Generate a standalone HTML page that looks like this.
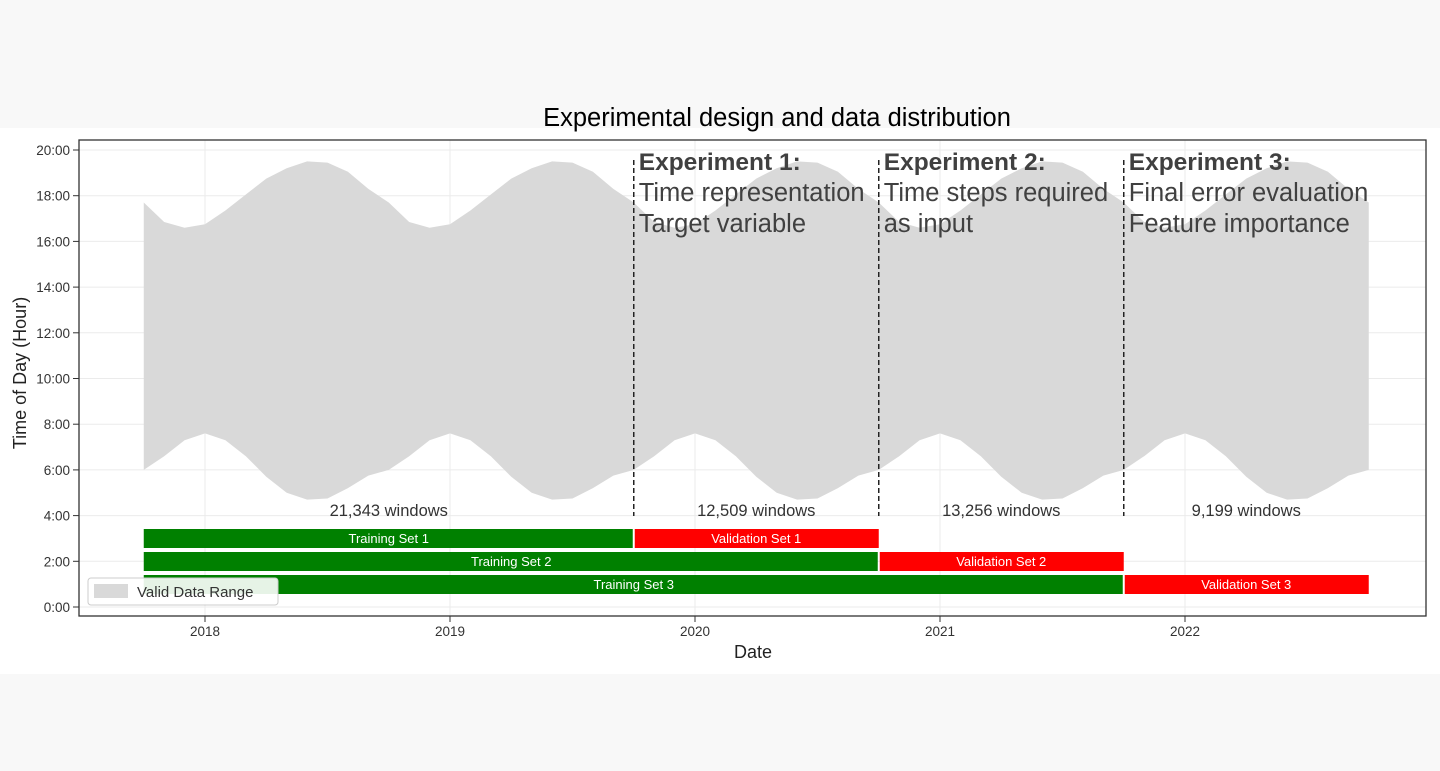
<!DOCTYPE html>
<html><head><meta charset="utf-8"><style>
body{margin:0;background:#f8f8f8;font-family:"Liberation Sans",Arial,sans-serif}
svg{display:block}
</style></head><body>
<svg id="c" width="1440" height="771" xmlns="http://www.w3.org/2000/svg">
<rect x="0" y="0" width="1440" height="771" fill="#f8f8f8"/>
<rect x="0" y="128" width="1440" height="546" fill="#ffffff"/>
<text x="777" y="126" font-size="25.5" text-anchor="middle" fill="#000">Experimental design and data distribution</text>
<g id="grid"></g>
<g id="area"></g>
<g id="marks"></g>
<rect x="79" y="140" width="1347" height="476" fill="none" stroke="#333" stroke-width="1.3"/>
<g id="axes"></g>
<text x="0" y="0" transform="translate(26,373) rotate(-90)" font-size="18" text-anchor="middle" fill="#222">Time of Day (Hour)</text>
<text x="753" y="658" font-size="18" text-anchor="middle" fill="#222">Date</text>
<g id="legend">
<rect x="88" y="578" width="190" height="27" rx="3" fill="#fff" fill-opacity="0.9" stroke="#ccc"/>
<rect x="94" y="584" width="34" height="14" fill="#d9d9d9"/>
<text x="137" y="597" font-size="15" fill="#333">Valid Data Range</text>
</g>
</svg>
<script>
const NS="http://www.w3.org/2000/svg";
const yTicks=[0,2,4,6,8,10,12,14,16,18,20];
const xTickYears=[2018,2019,2020,2021,2022];
const dataStart=2017.75, dataEnd=2022.75;
const sunsetMonthly=[17.7,16.85,16.6,16.75,17.35,18.05,18.75,19.2,19.5,19.45,19.05,18.3];
const sunriseMonthly=[6.0,6.6,7.3,7.6,7.3,6.6,5.7,5.0,4.7,4.75,5.2,5.75];
const splitYears=[2019.75,2020.75,2021.75];
const windowCounts=["21,343 windows","12,509 windows","13,256 windows","9,199 windows"];
const trainEnds=[2019.75,2020.75,2021.75];
const valEnds=[2020.75,2021.75,2022.75];
const expTitles=["Experiment 1:","Experiment 2:","Experiment 3:"];
const expLines=[["Time representation","Target variable"],["Time steps required","as input"],["Final error evaluation","Feature importance"]];

const X=d=>205+(d-2018)*245;
const Y=h=>607-h*22.85;
function el(tag,attrs,parent,txt){const e=document.createElementNS(NS,tag);for(const k in attrs)e.setAttribute(k,attrs[k]);if(txt!==undefined)e.textContent=txt;parent.appendChild(e);return e;}
const gridG=document.getElementById('grid'),areaG=document.getElementById('area'),marksG=document.getElementById('marks'),axesG=document.getElementById('axes');
yTicks.forEach(h=>{
 const l=el('line',{x1:79,x2:1426,y1:Y(h),y2:Y(h),stroke:'#ebebeb'},gridG);
 
 
 const t=el('line',{x1:73,x2:79,y1:Y(h),y2:Y(h),stroke:'#333'},axesG);
 
 
 const s=el('text',{x:70,y:Y(h)+5,'font-size':13.5,'text-anchor':'end',fill:'#333'},axesG,h+':00');
 
 
});
xTickYears.forEach(y=>{
 const l=el('line',{x1:X(y),x2:X(y),y1:140,y2:616,stroke:'#ebebeb'},gridG);
 
 
 const t=el('line',{x1:X(y),x2:X(y),y1:616,y2:622,stroke:'#333'},axesG);
 
 
 const s=el('text',{x:X(y),y:636,'font-size':13.5,'text-anchor':'middle',fill:'#333'},axesG,y);
 
 
});
let upperEdge=[],lowerEdge=[];
const nMonths=Math.round((dataEnd-dataStart)*12);
for(let i=0;i<=nMonths;i++){
 const d=dataStart+i/12, m=i%12;
 upperEdge.push([X(d),Y(sunsetMonthly[m])]);lowerEdge.push([X(d),Y(sunriseMonthly[m])]);
}
const pts=upperEdge.concat(lowerEdge.reverse()).map(p=>p.join(',')).join(' ');
const poly=el('polygon',{points:pts,fill:'#d9d9d9'},areaG);


splitYears.forEach(s=>{
 const l=el('line',{x1:X(s),x2:X(s),y1:160,y2:516,stroke:'#222','stroke-width':1.5,'stroke-dasharray':'5,3'},marksG);
 
 
});
const segs=[dataStart].concat(splitYears).concat([dataEnd]);
windowCounts.forEach((w,i)=>{
 const t=el('text',{x:(X(segs[i])+X(segs[i+1]))/2,y:516,'font-size':16.5,'text-anchor':'middle',fill:'#333'},marksG,w);
 
 
});
expTitles.forEach((tt,i)=>{
 const x=X(splitYears[i])+5;
 const a=el('text',{x:x,y:170,'font-size':24.5,'font-weight':'bold',fill:'#404040'},marksG,tt);
 
 
 expLines[i].forEach((ln,j)=>{
  const b=el('text',{x:x,y:201+j*31,'font-size':25.5,fill:'#404040'},marksG,ln);
  
  
 });
});
const rowY=[529,552,575];
trainEnds.forEach((te,i)=>{
 const g=el('rect',{x:X(dataStart),y:rowY[i],width:X(te)-X(dataStart)-1,height:19,fill:'#008000'},marksG);
 
 
 const gt=el('text',{x:(X(dataStart)+X(te))/2,y:rowY[i]+14,'font-size':13,'text-anchor':'middle',fill:'#fff'},marksG,'Training Set '+(i+1));
 
 
 const r=el('rect',{x:X(te)+1,y:rowY[i],width:X(valEnds[i])-X(te)-1,height:19,fill:'#ff0000'},marksG);
 
 
 const rt=el('text',{x:(X(te)+X(valEnds[i]))/2,y:rowY[i]+14,'font-size':13,'text-anchor':'middle',fill:'#fff'},marksG,'Validation Set '+(i+1));
 
 
});
document.getElementById('c').appendChild(document.getElementById('legend'));
</script>
</body></html>
